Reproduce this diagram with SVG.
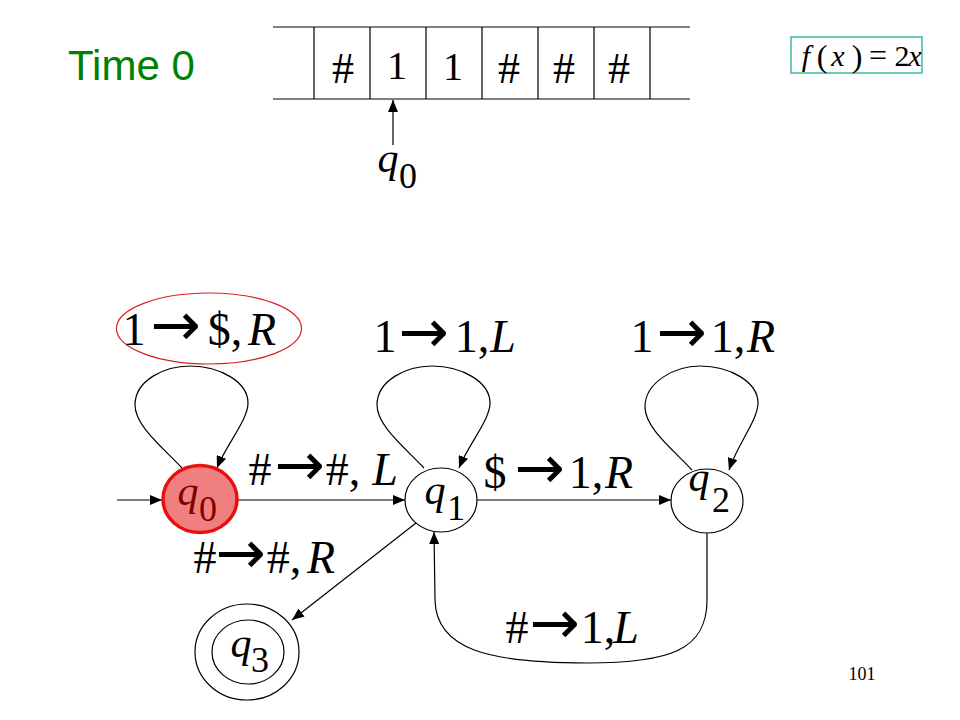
<svg xmlns="http://www.w3.org/2000/svg" width="960" height="720" viewBox="0 0 960 720">
<style>
.ln{stroke:#000;stroke-width:1.2;fill:none}
.edge{stroke:#000;stroke-width:1.2;fill:none;marker-end:url(#ah)}
.node{fill:#fff;stroke:#000;stroke-width:1.2}
.m{font-family:"Liberation Serif","Times New Roman",serif;fill:#000;text-anchor:middle}
.i{font-style:italic}
.lab{font-size:46px}
.ar{font-family:"DejaVu Sans",sans-serif;font-size:60px}
.q{font-size:42px;font-style:italic}
.s{font-size:36px}
</style>
<defs>
<marker id="ah" viewBox="0 0 12 10" refX="12" refY="5" markerWidth="12" markerHeight="10" markerUnits="userSpaceOnUse" orient="auto">
<path d="M0,0 L12,5 L0,10 z" fill="#000"/>
</marker>
</defs>
<rect width="960" height="720" fill="#fff"/>

<text x="68" y="80" font-family="Liberation Sans,Arial,sans-serif" font-size="42" fill="#008000">Time 0</text>

<g id="tape">
<line class="ln" x1="273" y1="27" x2="690" y2="27"/>
<line class="ln" x1="273" y1="99" x2="690" y2="99"/>
<line class="ln" x1="314" y1="27" x2="314" y2="99"/>
<line class="ln" x1="370" y1="27" x2="370" y2="99"/>
<line class="ln" x1="426" y1="27" x2="426" y2="99"/>
<line class="ln" x1="482" y1="27" x2="482" y2="99"/>
<line class="ln" x1="538" y1="27" x2="538" y2="99"/>
<line class="ln" x1="594" y1="27" x2="594" y2="99"/>
<line class="ln" x1="650" y1="27" x2="650" y2="99"/>
<text class="m" x="343" y="83" font-size="44">#</text>
<text class="m" x="397" y="79" font-size="40">1</text>
<text class="m" x="453" y="80" font-size="40">1</text>
<text class="m" x="509" y="83" font-size="44">#</text>
<text class="m" x="564" y="83" font-size="44">#</text>
<text class="m" x="619" y="83" font-size="44">#</text>
</g>

<g id="head">
<line class="edge" x1="393" y1="145" x2="393" y2="100"/>
<text class="m q" x="388" y="172">q</text>
<text class="m s" x="408" y="188">0</text>
</g>

<g id="formula">
<rect x="791" y="37" width="131" height="36" fill="none" stroke="#3cb8a8" stroke-width="1.5"/>
<text class="m i" x="806" y="66" font-size="30">f</text>
<text class="m" x="822" y="67" font-size="32">(</text>
<text class="m i" x="838" y="66" font-size="30">x</text>
<text class="m" x="857" y="67" font-size="32">)</text>
<text class="m" x="878" y="66" font-size="32">=</text>
<text class="m" x="902" y="66" font-size="30">2</text>
<text class="m i" x="915" y="66" font-size="30">x</text>
</g>

<g id="connectors">
<line class="edge" x1="117" y1="500" x2="162" y2="500"/>
<path class="edge" d="M182,468 C160,445 135,425 135,405 C135,380 165,366 190,366 C220,366 248,382 248,403 C248,420 226,445 217,468"/>
<path class="edge" d="M424,468 C402,445 377,425 377,405 C377,380 407,366 432,366 C462,366 490,382 490,403 C490,420 468,445 459,468"/>
<path class="edge" d="M692,470 C670,447 645,427 645,407 C645,382 675,366 700,366 C730,366 758,382 758,403 C758,420 737,445 729,470"/>
<line class="edge" x1="237" y1="500" x2="405" y2="500"/>
<line class="edge" x1="477" y1="500" x2="671" y2="500"/>
<line class="edge" x1="416" y1="523" x2="292" y2="620"/>
<path class="edge" d="M707,533 L707,600 C707,650 670,663 587,663 C490,663 436,650 435,600 L434,532"/>
</g>

<g id="labels">
<ellipse cx="209" cy="328.5" rx="92.5" ry="35.5" fill="none" stroke="#d82020" stroke-width="1.2"/>
<text class="m lab" y="345"><tspan x="134">1</tspan><tspan class="ar" x="176">→</tspan><tspan x="225">$,</tspan><tspan x="262" font-style="italic">R</tspan></text>
<text class="m lab" y="352"><tspan x="385">1</tspan><tspan class="ar" x="424">→</tspan><tspan x="472">1,</tspan><tspan x="503" font-style="italic">L</tspan></text>
<text class="m lab" y="352"><tspan x="642">1</tspan><tspan class="ar" x="682">→</tspan><tspan x="728">1,</tspan><tspan x="761" font-style="italic">R</tspan></text>
<text class="m lab" y="485"><tspan x="260">#</tspan><tspan class="ar" x="300">→</tspan><tspan x="343">#,</tspan><tspan x="385" font-style="italic">L</tspan></text>
<text class="m lab" y="488"><tspan x="495">$</tspan><tspan class="ar" x="540">→</tspan><tspan x="586">1,</tspan><tspan x="619" font-style="italic">R</tspan></text>
<text class="m lab" y="573"><tspan x="205">#</tspan><tspan class="ar" x="241">→</tspan><tspan x="284">#,</tspan><tspan x="321" font-style="italic">R</tspan></text>
<text class="m lab" y="643"><tspan x="517">#</tspan><tspan class="ar" x="555">→</tspan><tspan x="598">1,</tspan><tspan x="626" font-style="italic">L</tspan></text>
</g>

<g id="q0">
<ellipse cx="200" cy="499" rx="37" ry="33.5" fill="#f08080" stroke="#e81010" stroke-width="3.5"/>
<text class="m q" x="188" y="505" style="fill:#800000">q</text>
<text class="m s" x="208" y="521" style="fill:#800000">0</text>
</g>

<g id="q1">
<ellipse class="node" cx="441" cy="500" rx="36" ry="32"/>
<text class="m q" x="435" y="504">q</text>
<text class="m s" x="456" y="520">1</text>
</g>

<g id="q2">
<ellipse class="node" cx="707" cy="501" rx="36" ry="32"/>
<text class="m q" x="699" y="491">q</text>
<text class="m s" x="721" y="512">2</text>
</g>

<g id="q3">
<ellipse class="node" cx="247" cy="652" rx="52" ry="48"/>
<ellipse class="node" cx="248" cy="652" rx="36" ry="32"/>
<text class="m q" x="241" y="657">q</text>
<text class="m s" x="260" y="672">3</text>
</g>

<text x="862" y="680" font-family="Liberation Serif,Times New Roman,serif" font-size="18" text-anchor="middle">101</text>
</svg>
